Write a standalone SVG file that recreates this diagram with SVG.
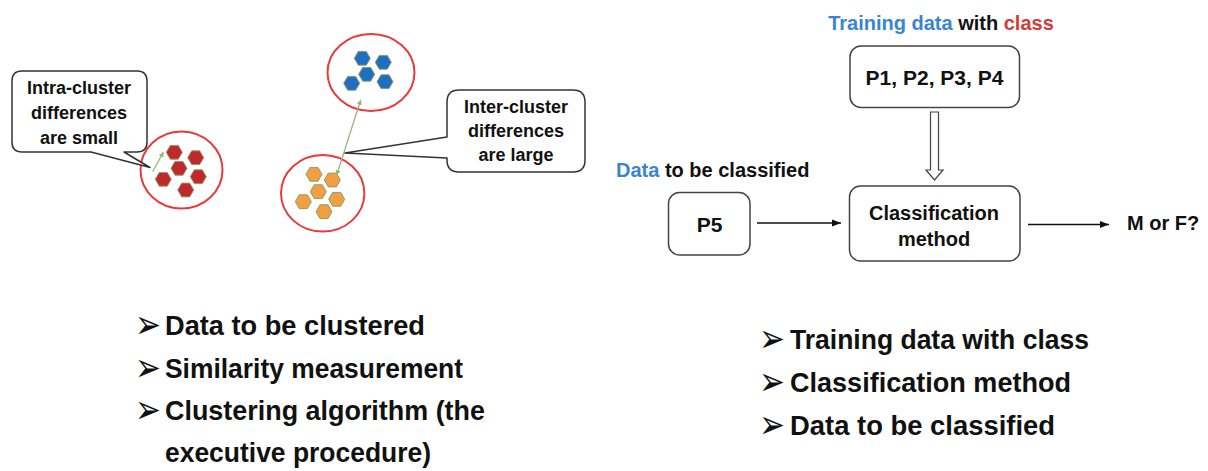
<svg xmlns="http://www.w3.org/2000/svg" width="1208" height="471" viewBox="0 0 1208 471">
<style>
  .bg { fill: #ffffff; }
  .cluster { fill: #ffffff; stroke: #e8393d; stroke-width: 2; }
  .hex-red { fill: #c0282b; stroke: #8f9a6a; stroke-width: 1; }
  .hex-blue { fill: #1f6fc0; stroke: #8f9a6a; stroke-width: 1; }
  .hex-orange { fill: #f0a040; stroke: #8f9a6a; stroke-width: 1; }
  .callout { fill: #ffffff; stroke: #333333; stroke-width: 1.5; stroke-linejoin: round; }
  .box { fill: #ffffff; stroke: #444444; stroke-width: 1.5; }
  .t { font-family: "Liberation Sans", Arial, sans-serif; font-weight: bold; fill: #111111; }
  .call { font-size: 18px; text-anchor: middle; }
  .lbl { font-size: 20px; }
  .mid { text-anchor: middle; }
  .blue { fill: #3a85d0; }
  .red { fill: #d63a3a; }
  .bul { font-size: 28px; }
  .sym { font-family: "DejaVu Sans", sans-serif; font-size: 40px; font-weight: bold; fill: #111111; }
  .green { stroke: #9ab67f; stroke-width: 1.3; fill: none; }
  .conn { stroke: #111111; stroke-width: 1.5; fill: none; }
  .hollow { fill: #ffffff; stroke: #444444; stroke-width: 1.2; stroke-linejoin: miter; }
</style>
<defs>
  <polygon id="hex" points="8,0 4,6.9 -4,6.9 -8,0 -4,-6.9 4,-6.9"/>
  <marker id="ah" viewBox="0 0 10 10" refX="10" refY="5" markerWidth="6" markerHeight="6" orient="auto" markerUnits="strokeWidth">
    <path d="M0,1 L10,5 L0,9 Z" fill="#111111"/>
  </marker>
  <marker id="gh" viewBox="0 0 10 10" refX="9" refY="5" markerWidth="4" markerHeight="4" orient="auto-start-reverse" markerUnits="strokeWidth">
    <path d="M0,0 L10,5 L0,10 Z" fill="#9ab67f"/>
  </marker>
</defs>
<rect class="bg" x="0" y="0" width="1208" height="471"/>

<g id="cluster-red">
  <ellipse class="cluster" cx="181.5" cy="170" rx="41" ry="38.5"/>
  <use href="#hex" class="hex-red" x="174.3" y="152.3"/>
  <use href="#hex" class="hex-red" x="195.7" y="157.7"/>
  <use href="#hex" class="hex-red" x="179" y="168.3"/>
  <use href="#hex" class="hex-red" x="163.3" y="179.3"/>
  <use href="#hex" class="hex-red" x="198.3" y="176.7"/>
  <use href="#hex" class="hex-red" x="185.7" y="190"/>
</g>

<g id="cluster-blue">
  <ellipse class="cluster" cx="371" cy="72.5" rx="43.5" ry="38.5"/>
  <use href="#hex" class="hex-blue" x="362.3" y="58.3"/>
  <use href="#hex" class="hex-blue" x="383.3" y="62.3"/>
  <use href="#hex" class="hex-blue" x="366.7" y="74.3"/>
  <use href="#hex" class="hex-blue" x="351.7" y="83.3"/>
  <use href="#hex" class="hex-blue" x="385" y="81.7"/>
</g>

<g id="cluster-orange">
  <ellipse class="cluster" cx="322.7" cy="193.3" rx="41.7" ry="38.3"/>
  <use href="#hex" class="hex-orange" x="314" y="174.3"/>
  <use href="#hex" class="hex-orange" x="332.3" y="180"/>
  <use href="#hex" class="hex-orange" x="318.3" y="191.7"/>
  <use href="#hex" class="hex-orange" x="303.3" y="201.7"/>
  <use href="#hex" class="hex-orange" x="336.7" y="199.3"/>
  <use href="#hex" class="hex-orange" x="324" y="211.7"/>
</g>

<g id="connectors">
  <line class="green" x1="152.7" y1="171.7" x2="163.3" y2="152.3" marker-end="url(#gh)"/>
  <line class="green" x1="336.7" y1="175" x2="360.7" y2="100" marker-start="url(#gh)" marker-end="url(#gh)"/>
  <polygon class="hollow" points="930.5,112 938.5,112 938.5,170 943,170 934.5,180 926,170 930.5,170"/>
  <line class="conn" x1="757" y1="223" x2="841" y2="223" marker-end="url(#ah)"/>
  <line class="conn" x1="1028" y1="224.5" x2="1109" y2="224.5" marker-end="url(#ah)"/>
</g>

<g id="callout-intra">
  <path class="callout" d="M22,71 H137 Q147,71 147,81 V142 Q147,152 137,152 H124 L150,167.5 L91,152 H22 Q12,152 12,142 V81 Q12,71 22,71 Z"/>
  <text class="t call" x="79" y="94">Intra-cluster</text>
  <text class="t call" x="79" y="119">differences</text>
  <text class="t call" x="79" y="144">are small</text>
</g>

<g id="callout-inter">
  <path class="callout" d="M459,90 H573 Q585,90 585,102 V160 Q585,172 573,172 H459 Q447,172 447,160 V158 L345,153 L447,137 V102 Q447,90 459,90 Z"/>
  <text class="t call" x="516" y="113">Inter-cluster</text>
  <text class="t call" x="516" y="137">differences</text>
  <text class="t call" x="516" y="161">are large</text>
</g>

<g id="title-training">
  <text class="t lbl mid" x="941" y="30"><tspan class="blue">Training data</tspan> with <tspan class="red">class</tspan></text>
</g>

<g id="node-p1-p4">
  <rect class="box" x="850" y="46" width="169.5" height="61.5" rx="11"/>
  <text class="t mid" style="font-size:21px" x="934.5" y="85">P1, P2, P3, P4</text>
</g>

<g id="title-data">
  <text class="t lbl" x="616" y="177"><tspan class="blue">Data</tspan> to be classified</text>
</g>

<g id="node-p5">
  <rect class="box" x="668.5" y="192.5" width="81.5" height="62.5" rx="11"/>
  <text class="t mid" style="font-size:21px" x="709.5" y="231.5">P5</text>
</g>

<g id="node-classification">
  <rect class="box" x="849.5" y="186" width="170.5" height="75" rx="11"/>
  <text class="t lbl mid" x="934" y="220">Classification</text>
  <text class="t lbl mid" x="934" y="246">method</text>
</g>

<g id="node-output">
  <text class="t lbl" x="1127" y="230">M or F?</text>
</g>

<g id="bullets-clustering">
  <text class="sym" x="135" y="338" textLength="26" lengthAdjust="spacingAndGlyphs">➢</text>
  <text class="t bul" x="165" y="335" textLength="260" lengthAdjust="spacingAndGlyphs">Data to be clustered</text>
  <text class="sym" x="135" y="381" textLength="26" lengthAdjust="spacingAndGlyphs">➢</text>
  <text class="t bul" x="165" y="378" textLength="298" lengthAdjust="spacingAndGlyphs">Similarity measurement</text>
  <text class="sym" x="135" y="423" textLength="26" lengthAdjust="spacingAndGlyphs">➢</text>
  <text class="t bul" x="165" y="420" textLength="320" lengthAdjust="spacingAndGlyphs">Clustering algorithm (the</text>
  <text class="t bul" x="165" y="462" textLength="266" lengthAdjust="spacingAndGlyphs">executive procedure)</text>
</g>

<g id="bullets-classification">
  <text class="sym" x="759" y="352" textLength="26" lengthAdjust="spacingAndGlyphs">➢</text>
  <text class="t bul" x="790" y="349" textLength="299" lengthAdjust="spacingAndGlyphs">Training data with class</text>
  <text class="sym" x="759" y="395" textLength="26" lengthAdjust="spacingAndGlyphs">➢</text>
  <text class="t bul" x="790" y="392" textLength="281" lengthAdjust="spacingAndGlyphs">Classification method</text>
  <text class="sym" x="759" y="438" textLength="26" lengthAdjust="spacingAndGlyphs">➢</text>
  <text class="t bul" x="790" y="435" textLength="265" lengthAdjust="spacingAndGlyphs">Data to be classified</text>
</g>
</svg>
